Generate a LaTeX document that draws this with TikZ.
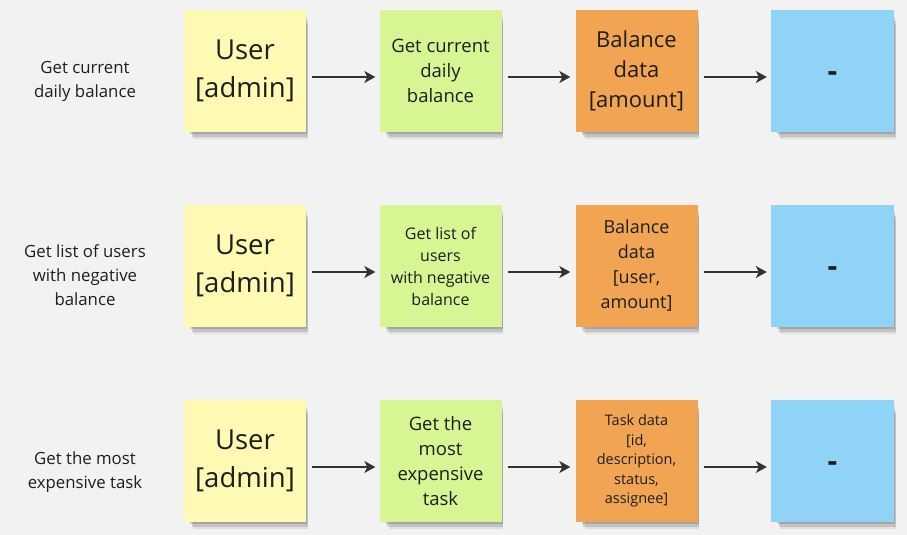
\documentclass[tikz,border=0pt]{standalone}
\usepackage{fontspec}
\setmainfont{Open Sans}
\usetikzlibrary{arrows.meta,shadows}
\definecolor{boardgray}{HTML}{F2F2F2}
\definecolor{inkgray}{HTML}{1E1E1E}
\definecolor{arrowgray}{HTML}{333333}
\definecolor{noteyellow}{HTML}{FEF9B3}
\definecolor{notegreen}{HTML}{D6F694}
\definecolor{noteorange}{HTML}{F1A553}
\definecolor{noteblue}{HTML}{8FD3F7}
\tikzset{
  note/.style={minimum width=122pt,minimum height=122pt,inner sep=0pt,align=center,text=inkgray,
    drop shadow={shadow xshift=6pt,shadow yshift=-11pt,shadow scale=0.94,fill=black,opacity=0.08},
    drop shadow={shadow xshift=5pt,shadow yshift=-8pt,shadow scale=0.95,fill=black,opacity=0.12},
    drop shadow={shadow xshift=4pt,shadow yshift=-5pt,shadow scale=0.96,fill=black,opacity=0.15}},
  actor/.style={note,fill=noteyellow,font=\fontsize{27.5}{38}\selectfont},
  query/.style={note,fill=notegreen},
  datanote/.style={note,fill=noteorange},
  result/.style={note,fill=noteblue,minimum width=123pt,font=\fontsize{30}{38}\selectfont\bfseries},
  rowlabel/.style={align=center,text=inkgray,font=\fontsize{16.8}{24}\selectfont},
  flow/.style={draw=arrowgray,line width=1.4pt,-{Stealth[length=11pt,width=12pt,inset=3pt]}}
}
\newcommand{\dashmark}{\raisebox{-10pt}[0pt][0pt]{-}}
\begin{document}
\begin{tikzpicture}[x=1pt,y=-1pt]
  %fundo
  \fill[boardgray] (0,0) rectangle (907,535);
  \useasboundingbox (0,0) rectangle (907,535);

  %linha 1
  \node[rowlabel] (label1) at (85,81) {Get current\\daily balance};
  \node[actor] (user1) at (245,71) {User\\{}[admin]};
  \node[query,font=\fontsize{18.5}{25}\selectfont] (query1) at (440.5,71) {Get current\\daily\\balance};
  \node[datanote,font=\fontsize{22}{30}\selectfont] (data1) at (636.5,71) {Balance\\data\\{}[amount]};
  \node[result] (res1) at (832.5,71) {\dashmark};

  %linha 2
  \node[rowlabel] (label2) at (85,275) {Get list of users\\with negative\\balance};
  \node[actor] (user2) at (245,266) {User\\{}[admin]};
  \node[query,font=\fontsize{16}{22}\selectfont] (query2) at (440.5,266) {Get list of\\users\\with negative\\balance};
  \node[datanote,font=\fontsize{18}{25}\selectfont] (data2) at (636.5,266) {Balance\\data\\{}[user,\\amount]};
  \node[result] (res2) at (832.5,266) {\dashmark};

  %linha 3
  \node[rowlabel] (label3) at (85,472) {Get the most\\expensive task};
  \node[actor] (user3) at (245,461) {User\\{}[admin]};
  \node[query,font=\fontsize{18.5}{25}\selectfont] (query3) at (440.5,461) {Get the\\most\\expensive\\task};
  \node[datanote,font=\fontsize{14.5}{19.5}\selectfont] (data3) at (636.5,461) {Task data\\{}[id,\\description,\\status,\\assignee]};
  \node[result] (res3) at (832.5,461) {\dashmark};

  %setas
  \draw[flow] ([xshift=6pt,yshift=-6pt]user1.east) -- ([xshift=-4pt,yshift=-6pt]query1.west);
  \draw[flow] ([xshift=6pt,yshift=-6pt]query1.east) -- ([xshift=-5pt,yshift=-6pt]data1.west);
  \draw[flow] ([xshift=6pt,yshift=-6pt]data1.east) -- ([xshift=-4pt,yshift=-6pt]res1.west);
  \draw[flow] ([xshift=6pt,yshift=-6pt]user2.east) -- ([xshift=-4pt,yshift=-6pt]query2.west);
  \draw[flow] ([xshift=6pt,yshift=-6pt]query2.east) -- ([xshift=-5pt,yshift=-6pt]data2.west);
  \draw[flow] ([xshift=6pt,yshift=-6pt]data2.east) -- ([xshift=-4pt,yshift=-6pt]res2.west);
  \draw[flow] ([xshift=6pt,yshift=-6pt]user3.east) -- ([xshift=-4pt,yshift=-6pt]query3.west);
  \draw[flow] ([xshift=6pt,yshift=-6pt]query3.east) -- ([xshift=-5pt,yshift=-6pt]data3.west);
  \draw[flow] ([xshift=6pt,yshift=-6pt]data3.east) -- ([xshift=-4pt,yshift=-6pt]res3.west);
\end{tikzpicture}
\end{document}
